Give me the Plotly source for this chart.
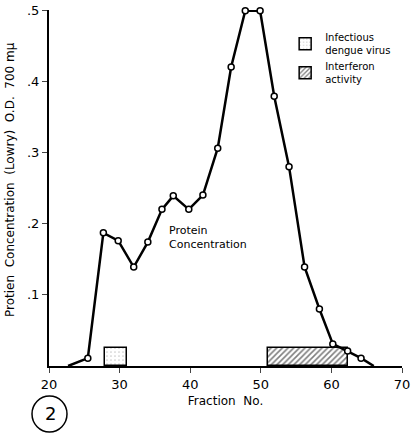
import plotly.graph_objects as go

# Protein concentration curve
fraction = [22.7, 25.5, 27.7, 29.8, 32.0, 34.0, 36.0, 37.6, 39.8, 41.8, 43.9, 45.8,
            47.8, 49.9, 51.9, 54.0, 56.2, 58.3, 60.2, 62.3, 64.2, 66.0]
protein = [0.0, 0.011, 0.187, 0.176, 0.139, 0.174, 0.22, 0.239, 0.22, 0.24, 0.306, 0.42,
           0.499, 0.499, 0.379, 0.28, 0.139, 0.08, 0.031, 0.021, 0.011, 0.0]
has_marker = [False] + [True] * 20 + [False]

# Activity bars (fraction ranges)
virus_range = [27.9, 31.1]
interferon_range = [51.0, 62.3]
bar_height = 0.025

x_ticks = [20, 30, 40, 50, 60, 70]
y_ticks = [0.1, 0.2, 0.3, 0.4, 0.5]
y_ticklabels = [".1", ".2", ".3", ".4", ".5"]

FONT = "DejaVu Sans"

fig = go.Figure()

fig.add_trace(go.Bar(
    x=[(virus_range[0] + virus_range[1]) / 2],
    y=[bar_height],
    width=[virus_range[1] - virus_range[0]],
    marker=dict(color="white", line=dict(color="black", width=1.5),
                pattern=dict(shape=".", fgcolor="#999", size=4, solidity=0.15)),
    name="Infectious<br>dengue virus",
))
fig.add_trace(go.Bar(
    x=[(interferon_range[0] + interferon_range[1]) / 2],
    y=[bar_height],
    width=[interferon_range[1] - interferon_range[0]],
    marker=dict(color="white", line=dict(color="black", width=1.5),
                pattern=dict(shape="/", fgcolor="black", size=4, solidity=0.4)),
    name="Interferon<br>activity",
))

fig.add_trace(go.Scatter(
    x=fraction, y=protein, mode="lines",
    line=dict(color="black", width=2.5), showlegend=False, cliponaxis=False,
))
fig.add_trace(go.Scatter(
    x=[f for f, m in zip(fraction, has_marker) if m],
    y=[p for p, m in zip(protein, has_marker) if m],
    mode="markers",
    marker=dict(symbol="circle", size=6, color="white", line=dict(color="black", width=1.5)),
    showlegend=False, cliponaxis=False,
))

fig.update_layout(
    width=411, height=434,
    margin=dict(l=49, r=9, t=10, b=68, autoexpand=False),
    paper_bgcolor="white", plot_bgcolor="white",
    font=dict(family=FONT, color="black", size=12),
    bargap=0,
    legend=dict(x=0.669, y=0.96, xanchor="left", yanchor="top",
                font=dict(size=10), bgcolor="rgba(0,0,0,0)",
                tracegroupgap=4, itemwidth=30),
    xaxis=dict(range=[20, 70], tickvals=x_ticks, ticks="outside", ticklen=5,
               showline=True, linecolor="black", linewidth=2, showgrid=False,
               zeroline=False, tickfont=dict(size=13), automargin=False,
               title=dict(text="Fraction  No.", font=dict(size=12), standoff=6)),
    yaxis=dict(range=[0, 0.5], tickvals=y_ticks, ticktext=y_ticklabels,
               ticks="outside", ticklen=5, showline=True, linecolor="black",
               linewidth=2, showgrid=False, zeroline=False, tickfont=dict(size=13),
               automargin=False),
    annotations=[
        dict(text="Protien  Concentration  (Lowry)  O.D.  700 mμ", textangle=-90,
             xref="paper", yref="paper", x=(10 - 49) / 353, y=(366 - 180) / 356,
             xanchor="center", yanchor="middle",
             showarrow=False, font=dict(size=12)),
        dict(text="Protein<br>Concentration", xref="x", yref="y", x=36.7, y=0.181,
             xanchor="left", yanchor="middle", align="left", showarrow=False,
             font=dict(size=11)),
        dict(text="2", xref="paper", yref="paper", x=(50 - 49) / 353, y=(366 - 414) / 356,
             xanchor="center", yanchor="middle", showarrow=False, font=dict(size=18)),
    ],
    shapes=[
        dict(type="circle", xref="paper", yref="paper",
             x0=(32 - 49) / 353, x1=(67 - 49) / 353,
             y0=(366 - 396) / 356, y1=(366 - 432) / 356,
             line=dict(color="black", width=1.5)),
    ],
)

fig.write_html("out.html", config={"displayModeBar": False},
               post_script="document.body.style.margin='0';")
